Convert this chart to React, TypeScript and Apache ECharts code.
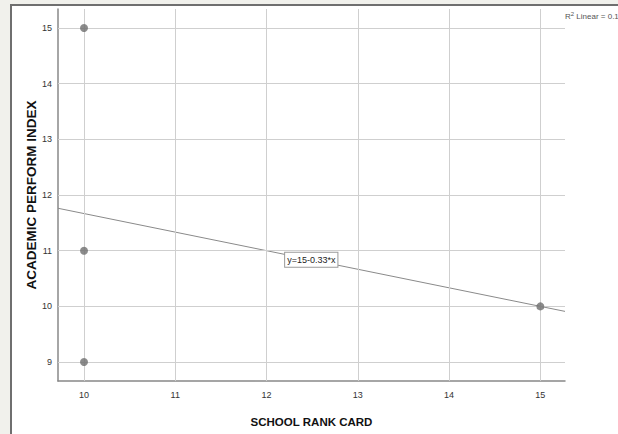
import React, { useEffect, useRef } from "react";
import * as echarts from "echarts";

const xTicks = [10, 11, 12, 13, 14, 15];
const yTicks = [9, 10, 11, 12, 13, 14, 15];
const schoolRank = [10, 10, 10, 15];
const academicIndex = [15, 11, 9, 10];
const fitIntercept = 15;
const fitSlope = -1 / 3;
const fitLabel = "y=15-0.33*x";
const r2Label = "0.1";
const xRange = [9.715, 15.27];
const yRange = [8.66, 15.34];

export default function App() {
  const ref = useRef<HTMLDivElement>(null);
  useEffect(() => {
    if (!ref.current) return;
    const chart = echarts.init(ref.current, null, { renderer: "svg" });
    const points = schoolRank.map((x, i) => [x, academicIndex[i]]);
    const fitLine = xRange.map((x) => [x, fitIntercept + fitSlope * x]);
    const labelX = 12.49;
    const font = "Arial, 'Liberation Sans', sans-serif";
    const gridStyle = { color: "#cfcfcf", width: 1, type: "solid" as const };
    chart.setOption({
      animation: false,
      backgroundColor: "#f1f1ec",
      graphic: [
        {
          type: "rect",
          z: -10,
          shape: { x: 11, y: 5, width: 640, height: 460 },
          style: { fill: "#ffffff", stroke: "#6f6f6f", lineWidth: 2 },
        },
        {
          type: "text",
          left: 565,
          top: 11,
          style: {
            text: "{a|R}{s|2}{a| Linear = " + r2Label + "}",
            rich: {
              a: { fontSize: 8, fill: "#555", fontFamily: font },
              s: { fontSize: 6, fill: "#555", fontFamily: font, verticalAlign: "top", padding: [0, 0, 4, 0] },
            },
          },
        },
      ],
      grid: { left: 58, right: 53, top: 9, bottom: 53, containLabel: false },
      xAxis: {
        type: "value",
        min: xRange[0],
        max: xRange[1],
        name: "SCHOOL RANK CARD",
        nameLocation: "middle",
        nameGap: 35,
        nameMoveOverlap: false,
        nameTextStyle: { fontSize: 11.5, fontWeight: "bold", color: "#111", fontFamily: font },
        axisLine: { show: true, lineStyle: { color: "#888", width: 1.5 } },
        axisTick: { show: false },
        splitLine: { show: false },
        axisLabel: {
          customValues: xTicks,
          fontSize: 9,
          color: "#333",
          margin: 9,
          fontFamily: font,
        },
      },
      yAxis: {
        type: "value",
        min: yRange[0],
        max: yRange[1],
        name: "ACADEMIC PERFORM INDEX",
        nameLocation: "middle",
        nameGap: 20,
        nameMoveOverlap: false,
        nameRotate: 90,
        nameTextStyle: { fontSize: 13.5, fontWeight: "bold", color: "#111", fontFamily: font },
        axisLine: { show: true, lineStyle: { color: "#888", width: 1.5 } },
        axisTick: { show: false },
        splitLine: { show: false },
        axisLabel: {
          customValues: yTicks,
          fontSize: 9,
          color: "#333",
          margin: 6,
          fontFamily: font,
        },
      },
      series: [
        {
          type: "scatter",
          data: points,
          symbolSize: 0,
          silent: true,
          z: 1,
          itemStyle: { opacity: 0 },
          markLine: {
            silent: true,
            symbol: "none",
            label: { show: false },
            lineStyle: gridStyle,
            emphasis: { disabled: true },
            data: [
              ...xTicks.map((v) => ({ xAxis: v })),
              ...yTicks.map((v) => ({ yAxis: v })),
            ],
          },
        },
        {
          type: "line",
          data: fitLine,
          symbol: "none",
          z: 3,
          lineStyle: { color: "#8a8a8a", width: 1 },
          markPoint: {
            symbol: "rect",
            symbolSize: 0,
            data: [{ coord: [labelX, fitIntercept + fitSlope * labelX] }],
            label: {
              show: true,
              position: "inside",
              formatter: fitLabel,
              fontSize: 9,
              color: "#222",
              fontFamily: font,
              backgroundColor: "#ffffff",
              borderColor: "#9a9a9a",
              borderWidth: 1,
              padding: [3, 2, 2, 2],
            },
          },
        },
        {
          type: "scatter",
          data: points,
          symbolSize: 8,
          z: 5,
          itemStyle: { color: "#6e6e6e" },
        },
      ],
    });
    return () => chart.dispose();
  }, []);
  return (
    <div
      ref={ref}
      style={{ position: "fixed", left: 0, top: 0, width: 618, height: 434 }}
    />
  );
}
